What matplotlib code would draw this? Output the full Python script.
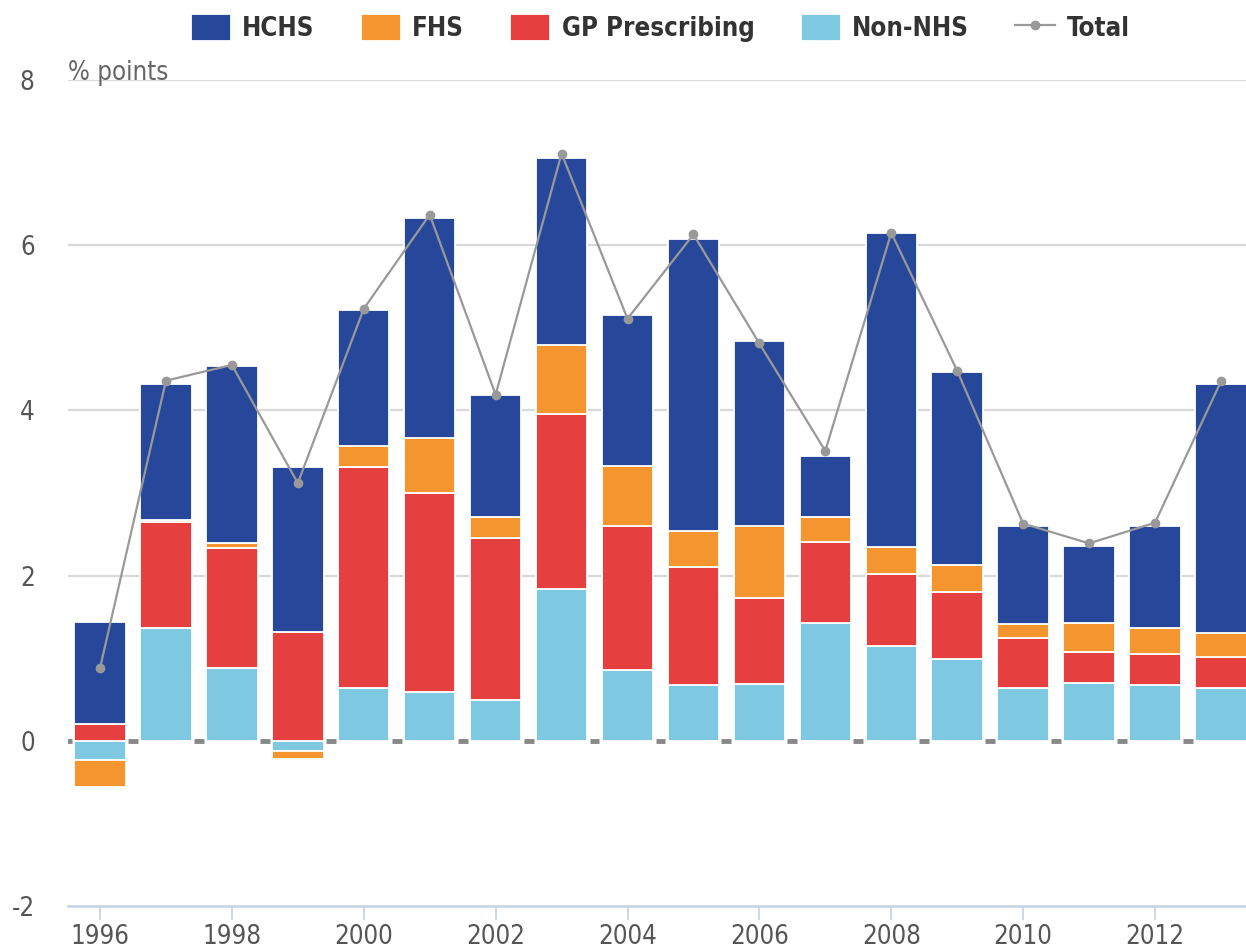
import matplotlib.pyplot as plt
import numpy as np

# Data: contributions to growth, % points
years = list(range(1996, 2014))
non_nhs = [-0.23, 1.37, 0.88, -0.12, 0.64, 0.59, 0.50, 1.84, 0.86, 0.67, 0.69, 1.43, 1.15, 0.99, 0.64, 0.70, 0.67, 0.64]
gp_prescribing = [0.20, 1.28, 1.46, 1.32, 2.67, 2.41, 1.96, 2.12, 1.74, 1.44, 1.04, 0.98, 0.87, 0.81, 0.61, 0.38, 0.38, 0.38]
fhs = [-0.33, 0.02, 0.05, -0.10, 0.26, 0.66, 0.25, 0.83, 0.73, 0.43, 0.87, 0.30, 0.33, 0.33, 0.17, 0.35, 0.31, 0.28]
hchs = [1.24, 1.65, 2.15, 2.00, 1.65, 2.67, 1.48, 2.26, 1.82, 3.53, 2.24, 0.74, 3.80, 2.33, 1.18, 0.93, 1.24, 3.02]
total = [0.88, 4.36, 4.55, 3.12, 5.23, 6.37, 4.19, 7.11, 5.11, 6.13, 4.81, 3.51, 6.15, 4.48, 2.63, 2.39, 2.64, 4.35]

yticks = [-2, 0, 2, 4, 6, 8]
xticks = list(range(1996, 2013, 2))

colors = {
    "HCHS": "#27479a",
    "FHS": "#f5952f",
    "GP Prescribing": "#e63f40",
    "Non-NHS": "#7ec9e1",
}

plt.rcParams["font.family"] = ["DejaVu Sans"]

fig = plt.figure(figsize=(12.46, 9.5), dpi=100)
ax = fig.add_axes([0.0546, 0.0463, 0.9454, 0.8695])

x = np.array(years, dtype=float)
width = 0.78

# stack positives upward and negatives downward, bottom to top order
series = [("Non-NHS", non_nhs), ("GP Prescribing", gp_prescribing), ("FHS", fhs), ("HCHS", hchs)]
pos_base = np.zeros(len(years))
neg_base = np.zeros(len(years))
handles = {}
for name, vals in series:
    v = np.array(vals)
    base = np.where(v >= 0, pos_base, neg_base)
    b = ax.bar(x, v, width=width, bottom=base, color=colors[name],
               edgecolor="white", linewidth=1.3, zorder=3, label=name)
    handles[name] = b
    pos_base = pos_base + np.where(v >= 0, v, 0)
    neg_base = neg_base + np.where(v < 0, v, 0)

line, = ax.plot(x, total, color="#999999", lw=1.6, marker="o", ms=6,
                zorder=4, label="Total")

# dashed zero line pieces visible between bars
gap_mid = np.concatenate([[x[0] - 0.5], x + 0.5])
for m in gap_mid:
    ax.plot([m - 0.075, m + 0.075], [0, 0], color="#888888", lw=3.5,
            solid_capstyle="butt", zorder=1)

ax.set_ylim(-2, 8)
ax.set_xlim(1995.515, 2013.38)
ax.set_yticks(yticks)
ax.set_yticklabels([str(t) for t in yticks])
ax.set_xticks(xticks)
ax.set_xticklabels([str(t) for t in xticks])

for t in [2, 4, 6, 8]:
    ax.axhline(t, color="#d9d9d9", lw=1.6, zorder=0)

for s in ["top", "right", "left"]:
    ax.spines[s].set_visible(False)
ax.spines["bottom"].set_color("#c5d2e3")
ax.spines["bottom"].set_linewidth(1.8)

ax.tick_params(axis="y", length=0, pad=24, labelsize=18.5, labelcolor="#555555")
ax.tick_params(axis="x", length=10, width=1.2, color="#c5d2e3", pad=3,
               labelsize=18.5, labelcolor="#555555")
for lab in ax.get_xticklabels() + ax.get_yticklabels():
    lab.set_fontstretch("condensed")

ax.text(0.0, 8.0, "% points", fontsize=18.5, color="#666666", ha="left",
        va="baseline", fontstretch="condensed",
        transform=ax.get_yaxis_transform())

order = ["HCHS", "FHS", "GP Prescribing", "Non-NHS"]
leg = fig.legend([handles[n] for n in order] + [line], order + ["Total"],
                 loc="upper center", bbox_to_anchor=(0.53, 1.01), ncol=5,
                 frameon=False, handlelength=1.55, handleheight=1.25,
                 columnspacing=1.8, handletextpad=0.45,
                 prop={"size": 18.5, "weight": "bold", "stretch": "condensed"})
for t in leg.get_texts():
    t.set_color("#333333")

fig.savefig("out.png", dpi=100)
